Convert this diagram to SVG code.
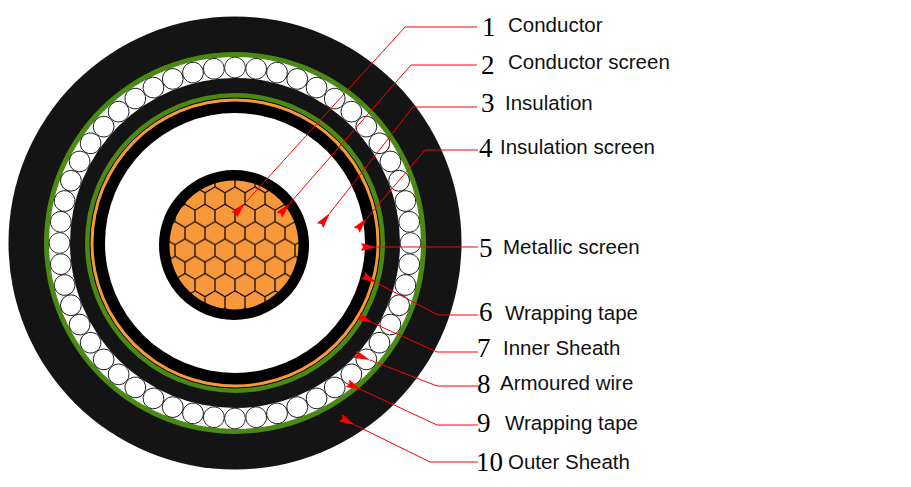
<svg xmlns="http://www.w3.org/2000/svg" xmlns:xlink="http://www.w3.org/1999/xlink" width="911" height="487" viewBox="0 0 911 487">
<style>
.num{font-family:"Liberation Serif",serif;font-size:27px;fill:#000}
.lbl{font-family:"Liberation Sans",Arial,sans-serif;font-size:20.5px;fill:#111}
.ld{fill:none;stroke:#f00;stroke-width:1}
</style>
<defs>
<pattern id="hex" patternUnits="userSpaceOnUse" width="20" height="34.64" x="5" y="8">
<rect width="20" height="34.64" fill="#f7983a"/>
<path d="M10 5.77L20 11.55V23.09L10 28.87L0 23.09V11.55Z M10 0V5.77 M10 28.87V34.64" fill="none" stroke="#000" stroke-width="1.2"/>
</pattern>
<marker id="ar" viewBox="0 0 16 8" refX="0" refY="4" markerWidth="16" markerHeight="8" markerUnits="userSpaceOnUse" orient="auto-start-reverse">
<path d="M0 4L16 0L14 4L16 8Z" fill="#f00"/>
</marker>
<circle id="w" cx="235" cy="67.5" r="10.4" fill="#fff" stroke="#000" stroke-width="0.8"/>
</defs>
<rect width="911" height="487" fill="#fff"/>
<g id="outer-sheath"><circle cx="235" cy="243" r="226.5" fill="#141414"/></g>
<g id="wrapping-tape-outer"><circle cx="235" cy="243" r="191" fill="#4a8a12"/></g>
<g id="armoured-wire">
<circle cx="235" cy="243" r="186" fill="#fff"/>
<g>
<use xlink:href="#w" transform="rotate(0 235 243)"/><use xlink:href="#w" transform="rotate(6.923 235 243)"/><use xlink:href="#w" transform="rotate(13.846 235 243)"/><use xlink:href="#w" transform="rotate(20.769 235 243)"/><use xlink:href="#w" transform="rotate(27.692 235 243)"/><use xlink:href="#w" transform="rotate(34.615 235 243)"/><use xlink:href="#w" transform="rotate(41.538 235 243)"/><use xlink:href="#w" transform="rotate(48.462 235 243)"/><use xlink:href="#w" transform="rotate(55.385 235 243)"/><use xlink:href="#w" transform="rotate(62.308 235 243)"/><use xlink:href="#w" transform="rotate(69.231 235 243)"/><use xlink:href="#w" transform="rotate(76.154 235 243)"/><use xlink:href="#w" transform="rotate(83.077 235 243)"/><use xlink:href="#w" transform="rotate(90 235 243)"/><use xlink:href="#w" transform="rotate(96.923 235 243)"/><use xlink:href="#w" transform="rotate(103.846 235 243)"/><use xlink:href="#w" transform="rotate(110.769 235 243)"/><use xlink:href="#w" transform="rotate(117.692 235 243)"/><use xlink:href="#w" transform="rotate(124.615 235 243)"/><use xlink:href="#w" transform="rotate(131.538 235 243)"/><use xlink:href="#w" transform="rotate(138.462 235 243)"/><use xlink:href="#w" transform="rotate(145.385 235 243)"/><use xlink:href="#w" transform="rotate(152.308 235 243)"/><use xlink:href="#w" transform="rotate(159.231 235 243)"/><use xlink:href="#w" transform="rotate(166.154 235 243)"/><use xlink:href="#w" transform="rotate(173.077 235 243)"/><use xlink:href="#w" transform="rotate(180 235 243)"/><use xlink:href="#w" transform="rotate(186.923 235 243)"/><use xlink:href="#w" transform="rotate(193.846 235 243)"/><use xlink:href="#w" transform="rotate(200.769 235 243)"/><use xlink:href="#w" transform="rotate(207.692 235 243)"/><use xlink:href="#w" transform="rotate(214.615 235 243)"/><use xlink:href="#w" transform="rotate(221.538 235 243)"/><use xlink:href="#w" transform="rotate(228.462 235 243)"/><use xlink:href="#w" transform="rotate(235.385 235 243)"/><use xlink:href="#w" transform="rotate(242.308 235 243)"/><use xlink:href="#w" transform="rotate(249.231 235 243)"/><use xlink:href="#w" transform="rotate(256.154 235 243)"/><use xlink:href="#w" transform="rotate(263.077 235 243)"/><use xlink:href="#w" transform="rotate(270 235 243)"/><use xlink:href="#w" transform="rotate(276.923 235 243)"/><use xlink:href="#w" transform="rotate(283.846 235 243)"/><use xlink:href="#w" transform="rotate(290.769 235 243)"/><use xlink:href="#w" transform="rotate(297.692 235 243)"/><use xlink:href="#w" transform="rotate(304.615 235 243)"/><use xlink:href="#w" transform="rotate(311.538 235 243)"/><use xlink:href="#w" transform="rotate(318.462 235 243)"/><use xlink:href="#w" transform="rotate(325.385 235 243)"/><use xlink:href="#w" transform="rotate(332.308 235 243)"/><use xlink:href="#w" transform="rotate(339.231 235 243)"/><use xlink:href="#w" transform="rotate(346.154 235 243)"/><use xlink:href="#w" transform="rotate(353.077 235 243)"/>
</g>
</g>
<g id="inner-sheath"><circle cx="235" cy="243" r="165" fill="#141414"/></g>
<g id="wrapping-tape-inner"><circle cx="235" cy="243" r="150" fill="#4a8a12"/></g>
<g id="metallic-screen"><circle cx="235" cy="243" r="145" fill="#f7983a" stroke="#000" stroke-width="1"/></g>
<g id="insulation-screen"><circle cx="235" cy="243" r="141.5" fill="#000"/></g>
<g id="insulation"><circle cx="235" cy="243" r="130" fill="#fff"/></g>
<g id="conductor-screen"><circle cx="234" cy="245" r="75" fill="#000"/></g>
<g id="conductor"><circle cx="234" cy="245" r="64.5" fill="url(#hex)"/></g>
<g id="connectors">
<path class="ld" d="M477 27H405L245 203" marker-end="url(#ar)"/>
<path class="ld" d="M477 65H411L290 203" marker-end="url(#ar)"/>
<path class="ld" d="M477 107H413L330 213" marker-end="url(#ar)"/>
<path class="ld" d="M478 150H425L367 218" marker-end="url(#ar)"/>
<path class="ld" d="M478 247H377" marker-end="url(#ar)"/>
<path class="ld" d="M478 315H438L377 283" marker-end="url(#ar)"/>
<path class="ld" d="M478 352H437L373 323" marker-end="url(#ar)"/>
<path class="ld" d="M478 386H437L370 360" marker-end="url(#ar)"/>
<path class="ld" d="M478 425H437L362 390" marker-end="url(#ar)"/>
<path class="ld" d="M478 462H430L355 425" marker-end="url(#ar)"/>
</g>
<g id="labels">
<text class="num" x="482" y="36">1</text><text class="lbl" x="508" y="32">Conductor</text>
<text class="num" x="481" y="74">2</text><text class="lbl" x="508" y="69">Conductor screen</text>
<text class="num" x="481" y="112">3</text><text class="lbl" x="505" y="110">Insulation</text>
<text class="num" x="479" y="157">4</text><text class="lbl" x="500" y="154">Insulation screen</text>
<text class="num" x="479" y="257">5</text><text class="lbl" x="503" y="254">Metallic screen</text>
<text class="num" x="479" y="321">6</text><text class="lbl" x="505" y="320">Wrapping tape</text>
<text class="num" x="477" y="357">7</text><text class="lbl" x="503" y="355">Inner Sheath</text>
<text class="num" x="477" y="393">8</text><text class="lbl" x="500" y="390">Armoured wire</text>
<text class="num" x="477" y="432">9</text><text class="lbl" x="505" y="430">Wrapping tape</text>
<text class="num" x="476" y="471">10</text><text class="lbl" x="508" y="469">Outer Sheath</text>
</g>
</svg>
